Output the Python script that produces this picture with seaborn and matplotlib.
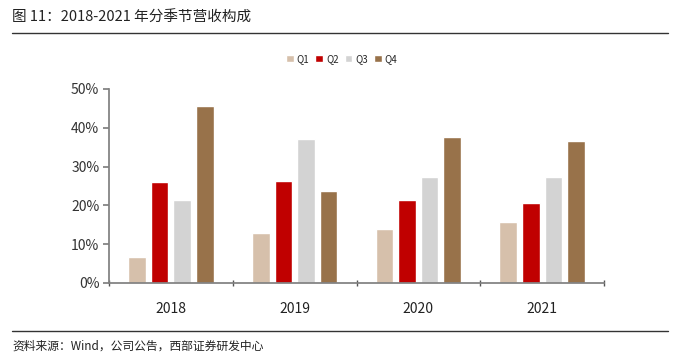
import pandas as pd
import numpy as np
import matplotlib
matplotlib.use("Agg")
import matplotlib.pyplot as plt
import seaborn as sns
from matplotlib.ticker import PercentFormatter, FixedLocator

# Seasonal revenue share per year
years = ["2018", "2019", "2020", "2021"]
quarters = ["Q1", "Q2", "Q3", "Q4"]
q1 = [6.8, 13.0, 13.8, 15.8]
q2 = [26.1, 26.4, 21.5, 20.5]
q3 = [21.5, 37.0, 27.2, 27.2]
q4 = [45.7, 23.6, 37.7, 36.7]
colors = ["#D6C0AB", "#C00000", "#D3D3D3", "#98724A"]

df = pd.DataFrame({"year": years, "Q1": q1, "Q2": q2, "Q3": q3, "Q4": q4})
df = df.melt(id_vars="year", var_name="quarter", value_name="share")

sns.set_theme(style="white")
plt.rcParams["font.family"] = ["Noto Sans CJK SC", "DejaVu Sans"]

fig = plt.figure(figsize=(6.82, 3.59), dpi=100)
ax = fig.add_axes([109 / 682, 1 - 283 / 359, (604 - 109) / 682, (283 - 89) / 359])

sns.barplot(data=df, x="year", y="share", hue="quarter", hue_order=quarters,
            palette=colors, width=0.73, gap=0.22, ax=ax, saturation=1)

ax.set_ylim(0, 50)
ax.set_xlim(-0.5, 3.5)
ax.yaxis.set_major_formatter(PercentFormatter(decimals=0))
ax.set_yticks([0, 10, 20, 30, 40, 50])
ax.set_xlabel("")
ax.set_ylabel("")
for s in ["top", "right"]:
    ax.spines[s].set_visible(False)
ax.spines["left"].set_color("#808080")
ax.spines["bottom"].set_color("#808080")
ax.tick_params(axis="y", left=True, length=4, color="#808080", labelsize=10, labelcolor="#333333", pad=3)
ax.tick_params(axis="x", bottom=False, labelsize=10, labelcolor="#222222", pad=8)
ax.xaxis.set_minor_locator(FixedLocator([-0.5, 0.5, 1.5, 2.5, 3.5]))
ax.tick_params(axis="x", which="minor", bottom=True, length=4, direction="inout", color="#555555")

leg = ax.legend(loc="upper center", bbox_to_anchor=(0.47, 1.225), ncol=4, frameon=False,
                fontsize=7, handlelength=0.8, handleheight=0.8, handletextpad=0.3, columnspacing=0.6)

# title, rules and source
fig.text(12 / 682, 1 - 18 / 359, "图 11：2018-2021 年分季节营收构成", fontsize=10.5, va="center", color="#222222")
fig.add_artist(plt.Line2D([12 / 682, 668 / 682], [1 - 33 / 359] * 2, color="#333333", lw=1))
fig.add_artist(plt.Line2D([12 / 682, 668 / 682], [1 - 331 / 359] * 2, color="#333333", lw=1))
fig.text(12 / 682, 1 - 346 / 359, "资料来源：Wind，公司公告，西部证券研发中心", fontsize=8.5, va="center", color="#222222")

fig.savefig("out.png", dpi=100)
